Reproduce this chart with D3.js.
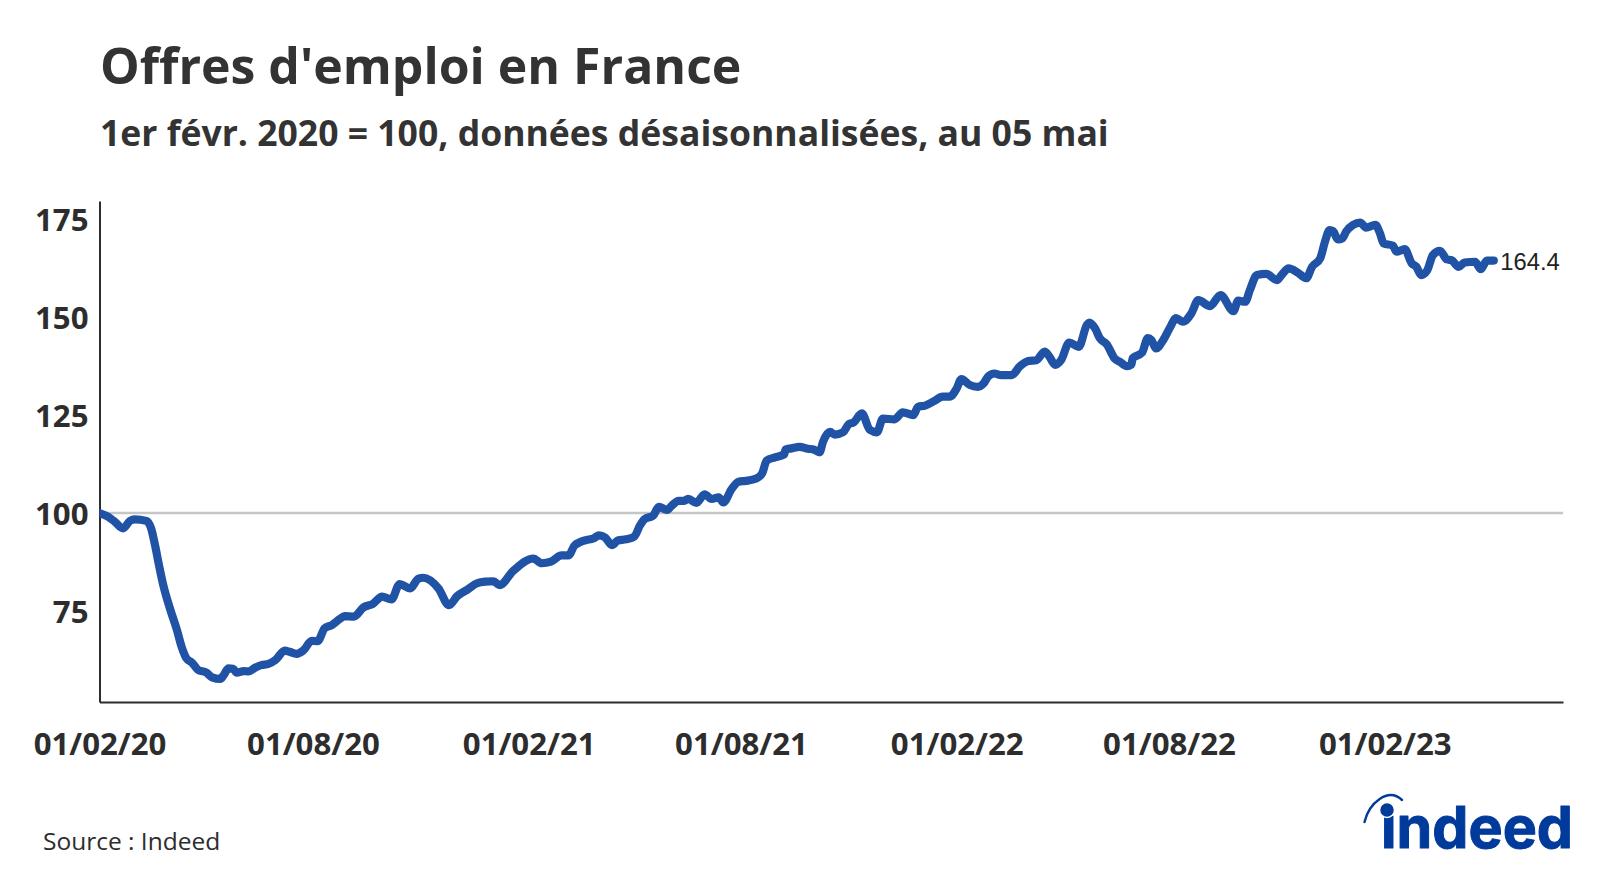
<!DOCTYPE html>
<html lang="fr">
<head>
<meta charset="utf-8">
<title>Offres d'emploi en France</title>
<script src="https://cdn.jsdelivr.net/npm/d3@7"></script>
<style>
  html, body { margin: 0; padding: 0; background: #fff; }
  svg { display: block; }
  text { font-family: "Open Sans", "Noto Sans", sans-serif; fill: #2d2d2d; }
</style>
</head>
<body>
<svg id="chart" width="1600" height="873"></svg>
<script>
// days since 1 Feb 2020
var dayOffsets = [0,7,13,20,26,30,40,44,47,51,54,60,66,70,74,79,84,91,96,103,106,110,114,117,123,127,133,138,144,150,158,162,168,174,181,186,192,198,205,209,217,225,233,
  241,249,256,265,272,276,289,298,305,314,322,329,336,341,353,370,377,385,394,400,405,410,415,421,426,431,437,442,449,456,461,465,472,477,
  484,488,494,498,502,509,516,522,528,532,539,545,551,560,565,569,576,584,585,590,597,604,609,614,617,623,627,634,639,643,650,657,663,668,678,685,694,698,704,712,719,725,
  731,735,742,749,754,758,763,769,778,785,792,799,806,810,815,820,827,835,842,844,849,853,859,866,870,876,880,881,889,894,897,901,907,913,918,924,931,937,947,956,967,971,977,
  981,987,995,1004,1008,1014,1022,1029,1034,1041,1045,1049,1052,1056,1060,1063,1069,1075,1080,1088,1092,1095,1103,1106,1113,1119,1123,1127,1132,1137,1143,1149,1153,1159,1164,1173,1178,1183,1189];

var postings = [100,99.1,97.8,96.1,98,98.4,98,96.1,92.3,86.3,82.1,75.7,70.2,65.9,63,61.8,60,59.3,58.1,57.7,58.7,60.4,60.3,59.3,59.7,59.6,60.6,61.2,61.5,62.5,64.9,64.6,64.1,65,67.4,67.3,70.6,71.4,73,73.7,73.6,75.9,76.8,
  78.7,78,81.9,80.8,83.3,83.5,80.8,76.5,78.8,80.5,82.1,82.5,82.6,81.6,85.3,88.4,87.2,87.6,89.2,89.2,91.7,92.6,93.1,93.5,94.3,93.8,91.8,93,93.3,94,96.9,98.5,99.3,101.6,
  100.8,101.9,103.1,103.1,103.6,102.6,104.8,103.6,104,102.7,106.1,108,108.2,108.8,110.1,113.4,114.2,115,116.2,116.5,116.9,116.4,116.2,115.5,118.2,120.7,120,120.6,122.7,123.1,125.4,121.2,120.6,124.1,123.9,125.7,125,127.1,127.4,128.6,129.7,129.7,
  131.8,134.2,132.7,132.2,133.1,134.9,135.6,135.2,135.2,137.5,138.8,139,141.2,139.9,137.8,139,143.5,142.4,148,148.6,147.1,144.6,143,139.3,138.6,137.5,137.9,139.5,140.9,144.6,144.1,142,144.1,147.4,149.7,148.8,150.9,154.3,152.8,155.6,151.5,154.2,153.9,
  156.9,160.7,161,159.4,160.7,162.4,161.3,159.9,162.8,165,169.2,172.2,171.9,169.8,170.1,171.8,173.5,174.1,172.8,173.5,171.3,168.8,168.2,166.7,167.3,163.7,162.8,160.7,161.8,165.8,166.9,164.7,164.5,162.8,163.9,164.1,162.2,164.4,164.4];

var yTicks = [75, 100, 125, 150, 175];
var xTicks = ["2020-02-01", "2020-08-01", "2021-02-01", "2021-08-01", "2022-02-01", "2022-08-01", "2023-02-01"];
var lastLabel = "164.4";

var parseDay = d3.utcParse("%Y-%m-%d");
var startDate = parseDay("2020-02-01");
var endDate = d3.utcDay.offset(startDate, 1248);

var left = 99.5, right = 1563, top_ = 201, bottom = 702;

var svg = d3.select("#chart");

var x = d3.scaleUtc().domain([startDate, endDate]).range([left, right]);
var y = d3.scaleLinear().domain([51.8, 179.6]).range([bottom, top_]);

svg.append("text").attr("x", 100).attr("y", 84)
  .style("font-size", "49.95px").style("font-weight", 700).style("fill", "#333")
  .text("Offres d'emploi en France");
svg.append("text").attr("x", 100).attr("y", 146)
  .style("font-size", "35.55px").style("font-weight", 700).style("fill", "#333")
  .text("1er févr. 2020 = 100, données désaisonnalisées, au 05 mai");

// line at 100
svg.append("line")
  .attr("x1", left).attr("x2", right)
  .attr("y1", y(100)).attr("y2", y(100))
  .attr("stroke", "#c6c6c6").attr("stroke-width", 2.4);

var yAxis = svg.append("g")
  .attr("transform", "translate(" + left + ",0)")
  .call(d3.axisLeft(y).tickValues(yTicks).tickSize(0).tickPadding(11));

var xAxis = svg.append("g")
  .attr("transform", "translate(0," + bottom + ")")
  .call(d3.axisBottom(x)
    .tickValues(xTicks.map(parseDay))
    .tickSize(0)
    .tickPadding(31)
    .tickFormat(d3.utcFormat("%d/%m/%y")));

[yAxis, xAxis].forEach(function (axis) {
  axis.selectAll("text")
    .style("font-size", "31.2px").style("font-weight", 700).style("fill", "#2d2d2d");
  axis.select(".domain").attr("stroke", "#2d2d2d").attr("stroke-width", 2);
});
yAxis.selectAll("text").attr("dy", "0.36em");

svg.append("clipPath").attr("id", "plot-clip")
  .append("rect")
  .attr("x", left).attr("y", top_)
  .attr("width", right - left).attr("height", bottom - top_);

var line = d3.line()
  .curve(d3.curveMonotoneX)
  .x(function (d) { return x(d3.utcDay.offset(startDate, d)); })
  .y(function (d, i) { return y(postings[i]); });

svg.append("path")
  .attr("d", line(dayOffsets))
  .attr("clip-path", "url(#plot-clip)")
  .attr("fill", "none")
  .attr("stroke", "#2053a5")
  .attr("stroke-width", 8.2)
  .attr("stroke-linejoin", "round")
  .attr("stroke-linecap", "round");

svg.append("text")
  .attr("x", x(d3.utcDay.offset(startDate, dayOffsets[dayOffsets.length - 1])) + 6.5)
  .attr("y", y(postings[postings.length - 1]) + 9.5)
  .style("font-family", '"Liberation Sans", Arial, sans-serif')
  .style("font-size", "23.8px").style("fill", "#222")
  .text(lastLabel);

svg.append("text").attr("x", 43).attr("y", 850)
  .style("font-size", "24.5px").style("fill", "#2d2d2d")
  .text("Source : Indeed");

// logo
var logo = svg.append("g");
logo.append("path")
  .attr("d", "M1364.5 822 C1369 803 1388 787 1402 800")
  .attr("fill", "none").attr("stroke", "#003a9b").attr("stroke-width", 2.4).attr("stroke-linecap", "round");
logo.append("text")
  .attr("x", 1381).attr("y", 848)
  .attr("textLength", 192).attr("lengthAdjust", "spacingAndGlyphs")
  .style("font-family", "Inter, Lato, sans-serif")
  .style("font-size", "58px").style("font-weight", 700).style("fill", "#003a9b")
  .style("stroke", "#003a9b").style("stroke-width", 1).style("stroke-linejoin", "round")
  .text("indeed");
logo.append("circle").attr("cx", 1387).attr("cy", 810).attr("r", 7.5)
  .attr("fill", "#003a9b").attr("stroke", "#fff").attr("stroke-width", 1.5);
</script>
</body>
</html>
